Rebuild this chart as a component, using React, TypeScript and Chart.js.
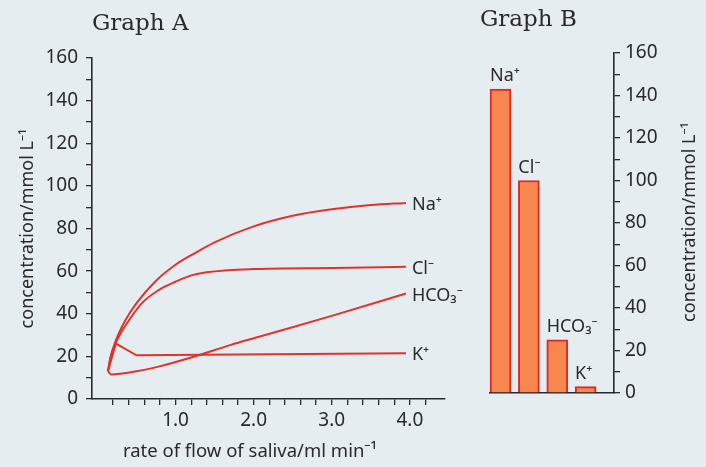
import { useEffect, useRef } from 'react';
import { Chart, registerables } from 'chart.js';

Chart.register(...registerables);

// ---------- Graph A: concentration vs rate of flow of saliva ----------
const ionLabels = ['Na⁺', 'Cl⁻', 'HCO₃⁻', 'K⁺'];

const naFlow = [0.134, 0.17, 0.22, 0.27, 0.35, 0.5, 0.75, 1.0, 1.25, 1.5, 2.0, 2.5, 3.0, 3.5, 3.95];
const naConc = [13, 20, 26, 30.5, 36.5, 45, 55.5, 63, 68.5, 73.5, 81, 86, 89, 91, 92];

const clFlow = [0.134, 0.17, 0.22, 0.27, 0.35, 0.57, 0.78, 1.0, 1.2, 1.4, 2.0, 3.0, 3.95];
const clConc = [13, 20, 25, 29, 34, 45, 51, 55, 58, 59.5, 61, 61.5, 62];

const hco3Flow = [0.134, 0.18, 0.5, 0.78, 1.2, 1.71, 2.0, 3.0, 3.95];
const hco3Conc = [13, 11.5, 13, 15.2, 19.5, 25.4, 28.5, 39, 49.5];

const kFlow = [0.134, 0.236, 0.5, 3.95];
const kConc = [13, 26, 20.5, 21.5];

// ---------- Graph B: bar chart of ion concentrations ----------
const barPositions = [0, 1, 2, 3];
const barConc = [143, 100, 25, 3];

const yTitle = 'concentration/mmol L⁻¹';
const xTitle = 'rate of flow of saliva/ml min⁻¹';

const FONT = '"Noto Sans", "Open Sans", sans-serif';
const SERIF = '"DejaVu Serif", "Liberation Serif", serif';
const INK = '#2a2a2a';
const RED = '#e2322c';
const BG = '#e6edf0';

const pts = (xs: number[], ys: number[]) => xs.map((x, i) => ({ x, y: ys[i] }));

export default function App() {
  const refA = useRef<HTMLCanvasElement | null>(null);
  const refB = useRef<HTMLCanvasElement | null>(null);

  useEffect(() => {
    const lineStyle = {
      borderColor: RED,
      borderWidth: 2,
      pointRadius: 0,
      fill: false,
    };

    const annotA = {
      id: 'annotA',
      afterDraw(chart: any) {
        const { ctx } = chart;
        ctx.save();
        ctx.fillStyle = INK;
        // heading
        ctx.font = `23px ${SERIF}`;
        ctx.textAlign = 'left';
        ctx.textBaseline = 'alphabetic';
        ctx.fillText('Graph A', 92, 30);
        // x title
        ctx.font = `18.5px ${FONT}`;
        ctx.textAlign = 'center';
        ctx.fillText(xTitle, 250, 457);
        // line end labels
        ctx.font = `18px ${FONT}`;
        ctx.textAlign = 'left';
        ctx.textBaseline = 'middle';
        const xs = chart.scales.x;
        const ys = chart.scales.y;
        chart.data.datasets.forEach((ds: any, i: number) => {
          const last = ds.data[ds.data.length - 1];
          const px = xs.getPixelForValue(last.x);
          const py = ys.getPixelForValue(last.y);
          ctx.fillText(ionLabels[i], px + 6, py + 2);
        });
        ctx.restore();
      },
    };

    const chartA = new Chart(refA.current as HTMLCanvasElement, {
      type: 'line',
      data: {
        datasets: [
          { ...lineStyle, label: ionLabels[0], data: pts(naFlow, naConc), cubicInterpolationMode: 'monotone' },
          { ...lineStyle, label: ionLabels[1], data: pts(clFlow, clConc), cubicInterpolationMode: 'monotone' },
          { ...lineStyle, label: ionLabels[2], data: pts(hco3Flow, hco3Conc), cubicInterpolationMode: 'monotone' },
          { ...lineStyle, label: ionLabels[3], data: pts(kFlow, kConc), tension: 0 },
        ],
      } as any,
      options: {
        responsive: false,
        animation: false,
        devicePixelRatio: 1,
        layout: { padding: { top: 58, right: 25, left: 0, bottom: 0 } },
        plugins: { legend: { display: false }, tooltip: { enabled: false }, title: { display: false } },
        scales: {
          x: {
            type: 'linear',
            min: -0.07,
            max: 4.45,
            afterFit: (s: any) => { s.height = 68; },
            afterBuildTicks: (s: any) => {
              s.ticks = s.ticks.filter((t: any) => t.value > 0.1 && t.value < 4.42);
            },
            ticks: {
              stepSize: 0.2,
              autoSkip: false,
              maxRotation: 0,
              padding: 4,
              color: INK,
              font: { family: FONT, size: 19 },
              callback: (v: any) => {
                const n = Number(v);
                return n >= 0.99 && Math.abs(n - Math.round(n)) < 1e-6 ? n.toFixed(1) : '';
              },
            },
            grid: { display: true, drawOnChartArea: false, drawTicks: true, tickLength: 6, color: INK, lineWidth: 1.3 },
            border: { display: true, color: INK, width: 1.6 },
          },
          y: {
            type: 'linear',
            min: 0,
            max: 160,
            afterFit: (s: any) => { s.width = 92; },
            ticks: {
              stepSize: 10,
              autoSkip: false,
              padding: 8,
              color: INK,
              font: { family: FONT, size: 19 },
              callback: (v: any) => (Number(v) % 20 === 0 ? String(v) : ''),
            },
            title: {
              display: true,
              text: yTitle,
              color: INK,
              font: { family: FONT, size: 18 },
              padding: { top: 17, bottom: 0 },
            },
            grid: { display: true, drawOnChartArea: false, drawTicks: true, tickLength: 6, color: INK, lineWidth: 1.3 },
            border: { display: true, color: INK, width: 1.6 },
          },
        },
      } as any,
      plugins: [annotA],
    });

    const annotB = {
      id: 'annotB',
      afterDraw(chart: any) {
        const { ctx } = chart;
        ctx.save();
        ctx.fillStyle = INK;
        ctx.font = `23px ${SERIF}`;
        ctx.textAlign = 'left';
        ctx.textBaseline = 'alphabetic';
        ctx.fillText('Graph B', 10, 26);
        // bar labels
        ctx.font = `18px ${FONT}`;
        const meta = chart.getDatasetMeta(0);
        meta.data.forEach((el: any, i: number) => {
          ctx.fillText(ionLabels[i], el.x - el.width / 2, el.y - 8);
        });
        // rotated y title on the right
        ctx.translate(220, 222);
        ctx.rotate(-Math.PI / 2);
        ctx.font = `18px ${FONT}`;
        ctx.textAlign = 'center';
        ctx.textBaseline = 'middle';
        ctx.fillText(yTitle, 0, 0);
        ctx.restore();
      },
    };

    const chartB = new Chart(refB.current as HTMLCanvasElement, {
      type: 'bar',
      data: {
        datasets: [
          {
            label: 'concentration',
            data: pts(barPositions, barConc),
            backgroundColor: '#f7874f',
            borderColor: '#e1262a',
            borderWidth: 2,
            barThickness: 21,
            clip: false,
          },
        ],
      } as any,
      options: {
        responsive: false,
        animation: false,
        devicePixelRatio: 1,
        layout: { padding: { top: 53, left: 20, right: 0, bottom: 0 } },
        plugins: { legend: { display: false }, tooltip: { enabled: false }, title: { display: false } },
        scales: {
          x: {
            type: 'linear',
            offset: false,
            min: -0.37,
            max: 4,
            afterFit: (s: any) => { s.height = 74; },
            ticks: { display: false },
            grid: { display: false, offset: false },
            border: { display: true, color: INK, width: 1.6 },
          },
          y: {
            type: 'linear',
            position: 'right',
            min: 0,
            max: 160,
            afterFit: (s: any) => { s.width = 92; },
            ticks: {
              stepSize: 10,
              autoSkip: false,
              padding: 5,
              color: INK,
              font: { family: FONT, size: 19 },
              callback: (v: any) => (Number(v) % 20 === 0 ? String(v) : ''),
            },
            grid: { display: true, drawOnChartArea: false, drawTicks: true, tickLength: 6, color: INK, lineWidth: 1.3 },
            border: { display: true, color: INK, width: 1.6 },
          },
        },
      } as any,
      plugins: [annotB],
    });

    return () => {
      chartA.destroy();
      chartB.destroy();
    };
  }, []);

  return (
    <div style={{ position: 'absolute', left: 0, top: 0, width: 706, height: 467, background: BG, overflow: 'hidden' }}>
      <canvas ref={refA} width={470} height={467} style={{ position: 'absolute', left: 0, top: 0 }} />
      <canvas ref={refB} width={236} height={467} style={{ position: 'absolute', left: 470, top: 0 }} />
    </div>
  );
}
